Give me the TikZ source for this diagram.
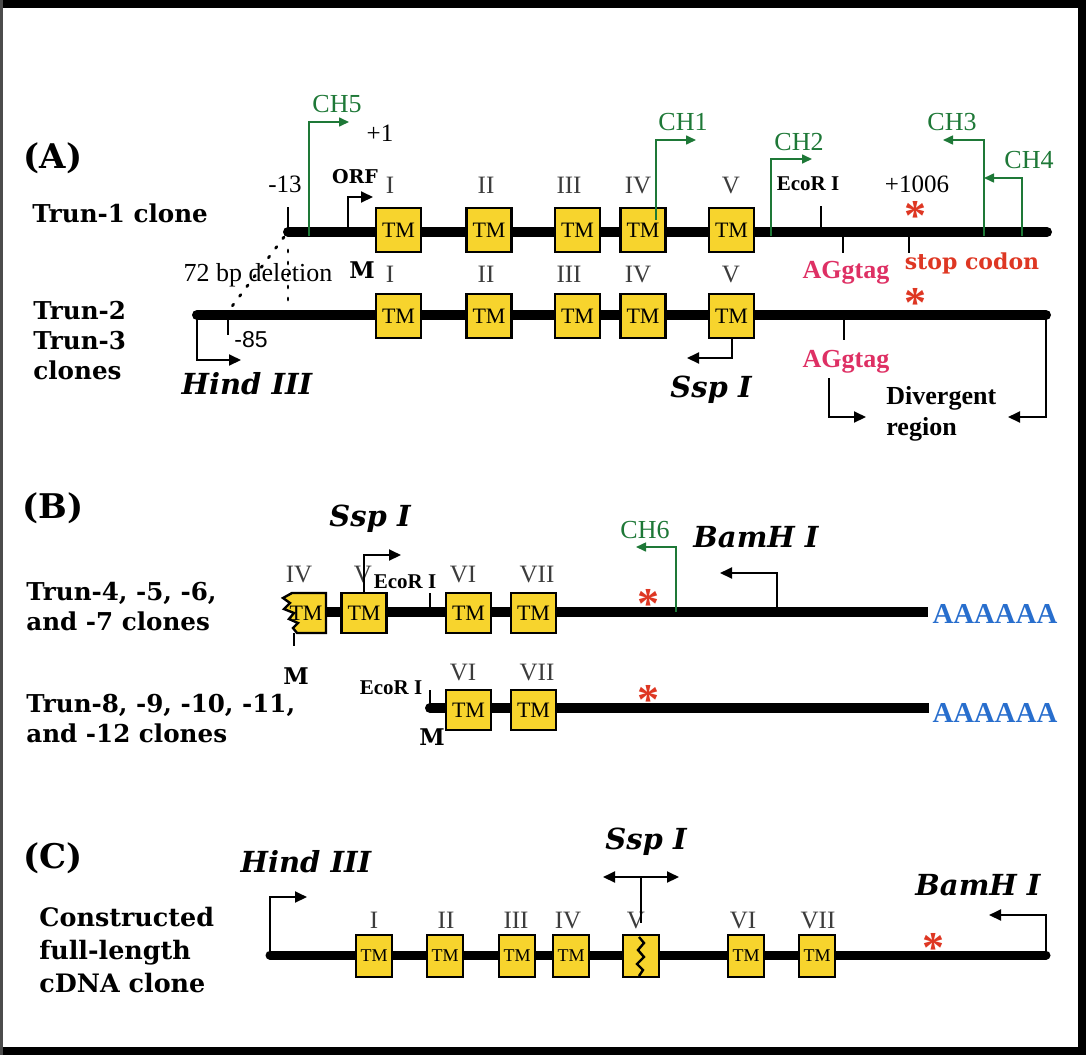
\documentclass[tikz,border=0pt]{standalone}
\usepackage{fontspec}
\newfontfamily\tms{Liberation Serif}
\newfontfamily\arl{Liberation Sans}
\newfontfamily\bkf{DejaVu Serif}
\usetikzlibrary{arrows.meta}
\definecolor{tmyel}{RGB}{247,212,45}
\definecolor{chgrn}{RGB}{30,120,55}
\definecolor{aggpink}{RGB}{222,48,100}
\definecolor{stopred}{RGB}{222,55,35}
\definecolor{polyblue}{RGB}{40,110,205}
\definecolor{numgray}{RGB}{60,60,60}
\tikzset{
  seclab/.style={font=\bkf\bfseries\fontsize{17}{19}\selectfont},
  clone/.style={anchor=west, align=left, inner sep=0pt, font=\bkf\bfseries\fontsize{12.3}{15}\selectfont},
  enz/.style={inner sep=0pt, font=\bkf\bfseries\itshape\fontsize{14.5}{16}\selectfont},
  roman/.style={text=numgray, inner sep=0pt, font=\tms\fontsize{12.5}{13}\selectfont},
  tm/.style={draw, line width=1.2pt, fill=tmyel, minimum width=22.5pt, minimum height=22pt, inner sep=0pt, font=\tms\fontsize{11}{11}\selectfont},
  tmsm/.style={tm, minimum width=18pt, minimum height=21pt, font=\tms\fontsize{9}{9}\selectfont},
  dna/.style={line width=5pt},
  tick/.style={line width=1.3pt},
  ch/.style={chgrn, line width=0.8pt, -{Triangle[length=5pt,width=4.5pt]}},
  chlab/.style={text=chgrn, inner sep=0pt, font=\tms\fontsize{13}{13}\selectfont},
  site/.style={line width=1pt, -{Triangle[length=6pt,width=5.5pt]}},
  stopast/.style={text=stopred, inner sep=0pt, font=\tms\bfseries\fontsize{22}{22}\selectfont},
  dotln/.style={line width=1.4pt, line cap=round, dash pattern=on 1pt off 5pt},
  small/.style={inner sep=0pt, font=\tms\fontsize{12.5}{13}\selectfont},
  boldtms/.style={inner sep=0pt, font=\tms\bfseries\fontsize{13}{15.5}\selectfont},
  bkm/.style={inner sep=0pt, font=\bkf\bfseries\fontsize{11}{12}\selectfont},
  polya/.style={text=polyblue, inner sep=0pt, font=\tms\bfseries\fontsize{14.4}{15}\selectfont},
}
\begin{document}
\begin{tikzpicture}[x=0.5pt, y=-0.5pt]
\useasboundingbox (0,0) rectangle (1086,1055);
% frame
\draw[line width=4pt] (0,4) -- (1082,4) -- (1082,1051) -- (0,1051);
\draw[black!70, line width=1.5pt] (1.5,0) -- (1.5,1055);

% (A) Trun-1 clone
\node[seclab] (secA) at (53,158) {(A)};
\node[clone] (trun1) at (32,213) {Trun-1 clone};
\coordinate (a0) at (288,232);
\coordinate (a9) at (1047,232);
\draw[dna, line cap=round] (a0) -- (a9);
\draw[tick] (288,207) -- (a0);
\node[small] (m13) at (285,184) {-13};
\node[small] (p1) at (380,133) {+1};
\node[bkm, font=\bkf\bfseries\fontsize{9.5}{10}\selectfont] (orf) at (355,177) {ORF};
\coordinate (orfs) at (348,232);
\coordinate (orfe) at (373,197);
\draw[site] (orfs) |- (orfe);
\node[tm] (tmA1) at (398.5,230) {TM};
\node[tm] (tmA2) at (489,230) {TM};
\node[tm] (tmA3) at (577.5,230) {TM};
\node[tm] (tmA4) at (643,230) {TM};
\node[tm] (tmA5) at (731.5,230) {TM};
\node[roman] (nA1) at (390,185) {I};
\node[roman] (nA2) at (486,185) {II};
\node[roman] (nA3) at (569,185) {III};
\node[roman] (nA4) at (638,185) {IV};
\node[roman] (nA5) at (731,185) {V};
\draw[tick] (821,206) -- (821,232);
\node[inner sep=0pt, font=\tms\bfseries\fontsize{10.5}{11}\selectfont] (ecoA) at (808,184) {EcoR I};
\node[small] (p1006) at (917,184) {+1006};
\node[stopast] (astA1) at (915,216) {*};
\draw[tick] (843,232) -- (843,253);
\draw[tick] (909,232) -- (909,253);
\node[boldtms, text=aggpink] (agA1) at (846,273) {AGgtag};
\node[bkm, text=stopred] (stop) at (972,263) {stop codon};
% green primers
\coordinate (ch5s) at (309,236);
\coordinate (ch5e) at (349,122);
\draw[ch] (ch5s) |- (ch5e);
\node[chlab] (ch5) at (337,104) {CH5};
\coordinate (ch1s) at (656,220);
\coordinate (ch1e) at (696,140);
\draw[ch] (ch1s) |- (ch1e);
\node[chlab] (ch1) at (683,122) {CH1};
\coordinate (ch2s) at (771,236);
\coordinate (ch2e) at (812,159);
\draw[ch] (ch2s) |- (ch2e);
\node[chlab] (ch2) at (799,142) {CH2};
\coordinate (ch3s) at (984,236);
\coordinate (ch3e) at (943,140);
\draw[ch] (ch3s) |- (ch3e);
\node[chlab] (ch3) at (952,122) {CH3};
\coordinate (ch4s) at (1022,236);
\coordinate (ch4e) at (984,178);
\draw[ch] (ch4s) |- (ch4e);
\node[chlab] (ch4) at (1029,160) {CH4};
% 72 bp deletion
\node[bkm, font=\bkf\bfseries\fontsize{11.5}{12}\selectfont] (mA) at (362,270) {M};
\node[small, font=\tms\fontsize{13}{13}\selectfont] (del) at (258,275) {72 bp deletion};
\coordinate (d0) at (284,237);
\coordinate (d1) at (230,309);
\draw[dotln] (d0) -- (d1);
\coordinate (d2) at (288,250);
\coordinate (d3) at (288,300);
\draw[dotln] (d2) -- (d3);

% Trun-2 / Trun-3 clones
\node[clone] (trun2) at (33,341) {Trun-2\\Trun-3\\clones};
\coordinate (b0) at (197,315);
\coordinate (b9) at (1046,315);
\draw[dna, line cap=round] (b0) -- (b9);
\draw[tick] (228,313) -- (228,335);
\node[inner sep=0pt, font=\arl\fontsize{11.5}{12}\selectfont] (m85) at (251,340) {-85};
\coordinate (hindA) at (241,360);
\draw[site] (b0) |- (hindA);
\node[enz] (hindAl) at (247,384) {Hind III};
\node[tm] (tmB1) at (398.5,316) {TM};
\node[tm] (tmB2) at (489,316) {TM};
\node[tm] (tmB3) at (577.5,316) {TM};
\node[tm] (tmB4) at (643,316) {TM};
\node[tm] (tmB5) at (731.5,316) {TM};
\node[roman] (nB1) at (390,274) {I};
\node[roman] (nB2) at (486,274) {II};
\node[roman] (nB3) at (569,274) {III};
\node[roman] (nB4) at (638,274) {IV};
\node[roman] (nB5) at (731,274) {V};
\coordinate (sspA) at (687,358);
\draw[site] (tmB5.south) |- (sspA);
\node[enz] (sspAl) at (711,390) {Ssp I};
\draw[tick] (844,315) -- (844,340);
\node[boldtms, text=aggpink] (agA2) at (846,362) {AGgtag};
\node[stopast] (astA2) at (915,303) {*};
% divergent region
\coordinate (dv1) at (829,378);
\coordinate (dv2) at (866,417);
\draw[site] (dv1) |- (dv2);
\coordinate (dv3) at (1008,417);
\draw[site] (b9) |- (dv3);
\node[boldtms, anchor=west, align=left] (div) at (886,414) {Divergent\\region};

% (B) Trun-4 ... Trun-12
\node[seclab] (secB) at (53,508) {(B)};
\node[clone] (trun4) at (26,607) {Trun-4, -5, -6,\\and -7 clones};
\coordinate (c0) at (293,612);
\coordinate (c9) at (928,612);
\draw[dna] (c0) -- (c9);
\draw[line width=1.2pt, fill=tmyel] (326,593) -- (326,633) -- (297,633) -- (293,628) -- (298,623) -- (289,619)
  -- (294,613) -- (284,609) -- (290,603) -- (283,598) -- (292,593) -- cycle;
\node[inner sep=0pt, font=\tms\fontsize{11}{11}\selectfont] (tmC1) at (306,613) {TM};
\draw[tick, line width=1pt] (294,633) -- (294,646);
\node[bkm, font=\bkf\bfseries\fontsize{11.5}{12}\selectfont] (mB) at (296,676) {M};
\node[tm, minimum height=20pt] (tmC2) at (364,613) {TM};
\node[tm, minimum height=20pt] (tmC3) at (468.5,613) {TM};
\node[tm, minimum height=20pt] (tmC4) at (533.5,613) {TM};
\node[roman] (nC1) at (299,574) {IV};
\node[roman] (nC2) at (363,574) {V};
\node[roman] (nC3) at (463,574) {VI};
\node[roman] (nC4) at (537,574) {VII};
\draw[tick, line width=1pt] (430,593) -- (430,612);
\node[inner sep=0pt, font=\tms\bfseries\fontsize{10.5}{11}\selectfont] (ecoB) at (405,582) {EcoR I};
\coordinate (sspB) at (401,555);
\draw[site] (tmC2.north) |- (sspB);
\node[enz] (sspBl) at (370,519) {Ssp I};
\node[stopast] (astB1) at (648,604) {*};
\coordinate (ch6s) at (676,612);
\coordinate (ch6e) at (636,547);
\draw[ch] (ch6s) |- (ch6e);
\node[chlab] (ch6) at (645,530) {CH6};
\coordinate (bamB) at (720,573);
\coordinate (bamBs) at (777,612);
\draw[site] (bamBs) |- (bamB);
\node[enz] (bamBl) at (756,537) {BamH I};
\node[polya] (pA1) at (995,614) {AAAAAA};
% Trun-8 ... Trun-12
\node[clone] (trun8) at (26,719) {Trun-8, -9, -10, -11,\\and -12 clones};
\coordinate (e0) at (430,708);
\coordinate (e9) at (929,708);
\draw[dna] (e0) -- (e9);
\fill (e0) circle (2.5pt);
\draw[tick, line width=1pt] (430,690) -- (e0);
\node[inner sep=0pt, font=\tms\bfseries\fontsize{10.5}{11}\selectfont] (ecoB2) at (391,688) {EcoR I};
\node[bkm, font=\bkf\bfseries\fontsize{11.5}{12}\selectfont] (mB2) at (432,737) {M};
\node[tm, minimum height=20pt] (tmD1) at (468.5,710) {TM};
\node[tm, minimum height=20pt] (tmD2) at (533.5,710) {TM};
\node[roman] (nD1) at (463,672) {VI};
\node[roman] (nD2) at (537,672) {VII};
\node[stopast] (astB2) at (648,700) {*};
\node[polya] (pA2) at (995,713) {AAAAAA};

% (C) constructed full-length clone
\node[seclab] (secC) at (53,858) {(C)};
\node[clone, font=\bkf\bfseries\fontsize{12.7}{16.5}\selectfont] (full) at (39,950) {Constructed\\full-length\\cDNA clone};
\coordinate (f0) at (270,955);
\coordinate (f9) at (1046,955);
\draw[dna, line width=4.5pt, line cap=round] (f0) -- (f9);
\coordinate (hindC) at (307,897);
\draw[site] (f0) |- (hindC);
\node[enz] (hindCl) at (306,862) {Hind III};
\node[tmsm] (tmE1) at (374,956) {TM};
\node[tmsm] (tmE2) at (445,956) {TM};
\node[tmsm] (tmE3) at (517,956) {TM};
\node[tmsm] (tmE4) at (571,956) {TM};
\node[tmsm] (tmE5) at (641,956) {};
\draw[line width=1.2pt] (639,937) -- (644,943) -- (638,950) -- (644,957) -- (637,964) -- (643,970) -- (639,976);
\node[tmsm] (tmE6) at (746,956) {TM};
\node[tmsm] (tmE7) at (817,956) {TM};
\node[roman] (nE1) at (374,920) {I};
\node[roman] (nE2) at (446,920) {II};
\node[roman] (nE3) at (516,920) {III};
\node[roman] (nE4) at (568,920) {IV};
\node[roman] (nE5) at (636,920) {V};
\node[roman] (nE6) at (743,920) {VI};
\node[roman] (nE7) at (818,920) {VII};
% Ssp I both ways
\coordinate (sspCl) at (603,877);
\coordinate (sspCr) at (679,877);
\draw[site, {Triangle[length=6pt,width=5.5pt]}-{Triangle[length=6pt,width=5.5pt]}] (sspCl) -- (sspCr);
\coordinate (sspCm) at (641,877);
\coordinate (sspCv) at (641,923);
\draw[line width=1pt] (sspCm) -- (sspCv);
\node[enz] (sspClab) at (646,842) {Ssp I};
\node[stopast] (astC) at (933,948) {*};
\coordinate (bamC) at (989,915);
\draw[site] (f9) |- (bamC);
\node[enz] (bamCl) at (978,885) {BamH I};
\end{tikzpicture}
\end{document}
